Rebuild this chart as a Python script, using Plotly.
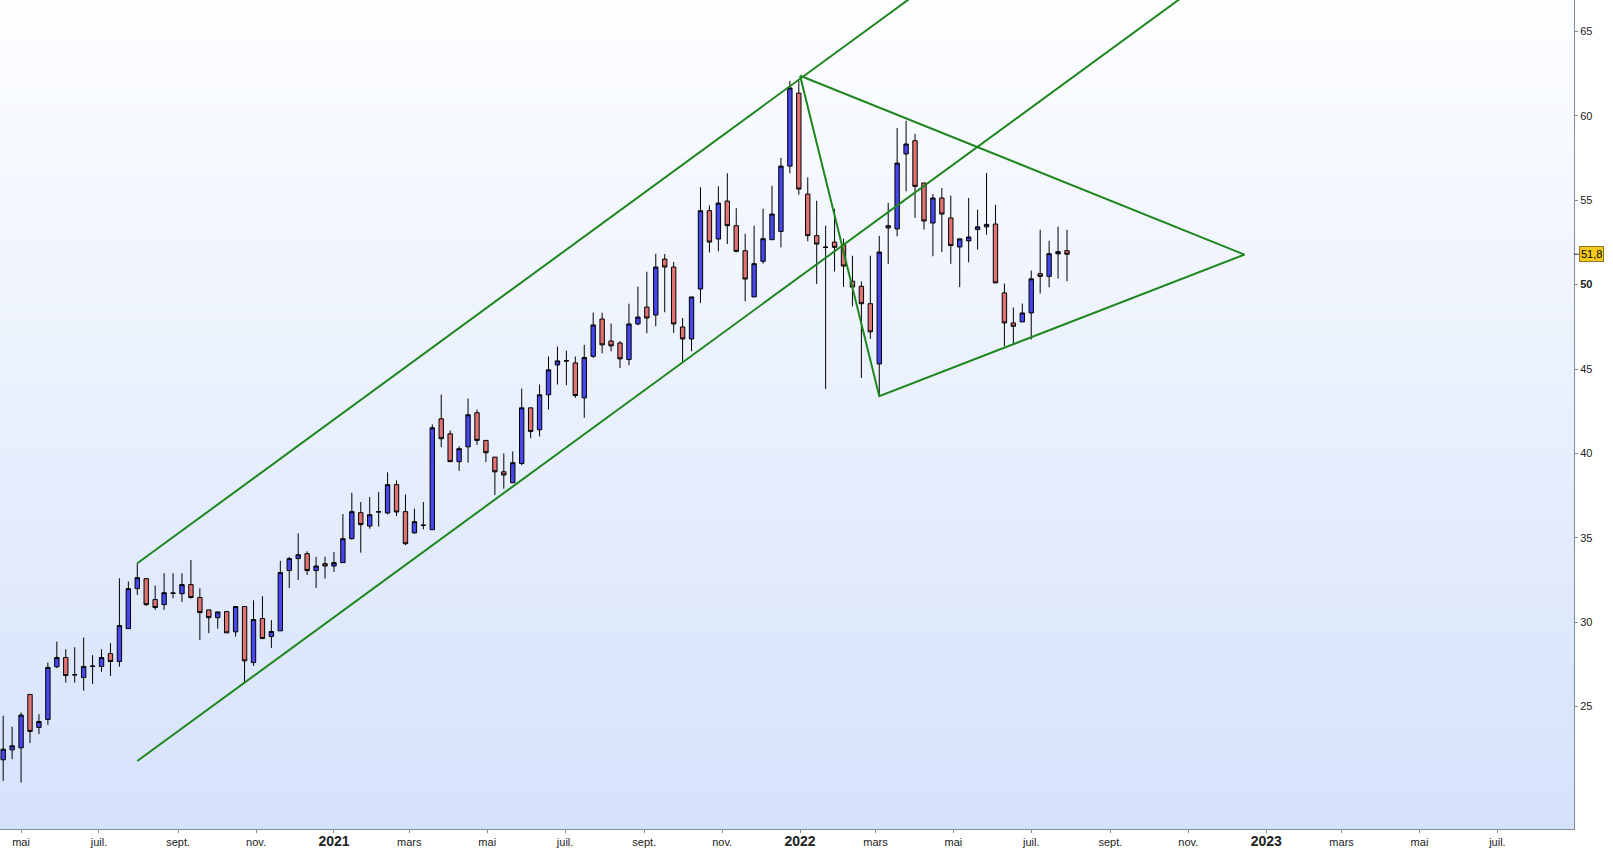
import plotly.graph_objects as go
import pandas as pd

# weekly candles, one per week (friday), from april 2020 to end of july 2022
first_week = "2020-04-17"
n_weeks = 120

opens = [21.85, 22.44, 22.56, 25.72, 23.77, 24.24, 27.36, 27.91, 26.9, 26.72,
         27.38, 27.38, 28.14, 27.67, 29.62, 31.99, 32.58, 31.34, 31.04, 31.71,
         31.69, 32.23, 31.46, 30.73, 30.27, 30.63, 29.43, 30.93, 27.61, 30.22,
         29.15, 29.49, 33.06, 33.77, 34.06, 33.06, 33.47, 33.33, 33.53, 34.95,
         36.49, 35.7, 36.52, 36.47, 38.15, 36.55, 35.29, 35.73, 35.48, 42.05,
         41.16, 39.51, 40.39, 42.41, 40.77, 39.78, 38.91, 38.26, 39.4, 42.7,
         41.4, 43.47, 45.24, 45.47, 45.36, 43.29, 45.75, 47.96, 46.66, 46.54,
         45.56, 47.67, 48.67, 48.2, 51.51, 51.04, 47.49, 46.78, 49.74, 54.38,
         52.7, 54.95, 53.49, 52.01, 49.27, 51.38, 52.66, 53.15, 57.02, 61.34,
         55.36, 52.9, 52.2, 52.52, 52.36, 50.2, 49.9, 48.87, 45.3, 53.49,
         53.3, 57.74, 58.52, 56.02, 53.65, 55.13, 53.95, 52.23, 52.59, 53.26,
         53.42, 53.59, 49.51, 47.73, 47.79, 48.32, 50.65, 50.49, 51.82, 52.01]
highs = [24.46, 23.81, 24.65, 25.75, 24.55, 27.61, 28.85, 28.4, 28.52, 29.09,
         28.05, 28.4, 28.76, 32.6, 32.41, 33.49, 32.6, 32.17, 32.9, 32.9,
         32.9, 33.69, 32.01, 30.73, 30.61, 30.63, 30.93, 30.93, 31.3, 31.54,
         30.12, 33.63, 33.88, 35.26, 34.2, 33.88, 33.88, 34.16, 36.41, 37.67,
         37.12, 37.42, 37.71, 38.88, 38.4, 37.57, 36.73, 37.12, 41.72, 43.49,
         41.36, 40.43, 43.25, 42.6, 40.77, 39.78, 40.0, 40.12, 43.84, 42.7,
         44.08, 45.74, 46.33, 46.09, 45.74, 46.43, 48.34, 48.34, 47.69, 46.66,
         48.87, 49.88, 50.76, 51.83, 51.81, 51.34, 48.02, 49.27, 55.76, 54.69,
         55.83, 56.6, 54.53, 53.01, 53.49, 54.49, 55.85, 57.51, 62.07, 62.07,
         56.35, 54.97, 53.49, 54.49, 52.72, 51.71, 50.19, 51.71, 52.89, 54.84,
         59.27, 59.71, 58.94, 56.02, 55.37, 55.72, 55.27, 52.71, 55.13, 54.44,
         56.61, 54.73, 50.06, 48.64, 48.88, 50.83, 53.25, 52.6, 53.43, 53.25]
lows = [20.6, 21.89, 20.5, 22.84, 23.37, 23.92, 27.28, 26.43, 26.43, 25.94,
        26.35, 27.06, 26.82, 27.36, 29.62, 31.62, 30.96, 30.73, 30.73, 31.42,
        31.2, 31.4, 28.95, 29.35, 29.62, 29.37, 29.15, 26.43, 27.41, 29.03,
        28.48, 29.49, 32.03, 32.5, 32.8, 32.03, 32.58, 32.98, 33.53, 34.9,
        34.12, 35.54, 35.66, 36.39, 36.29, 34.57, 35.25, 35.5, 35.48, 40.37,
        39.51, 38.97, 39.45, 40.5, 39.49, 37.53, 37.91, 38.26, 39.3, 40.9,
        41.0, 42.6, 44.08, 44.04, 43.29, 42.11, 45.66, 45.93, 46.05, 45.06,
        45.22, 47.59, 47.12, 47.53, 48.36, 47.14, 45.36, 46.05, 48.91, 51.91,
        51.97, 52.4, 51.91, 49.01, 49.27, 51.24, 52.66, 52.21, 56.6, 55.32,
        52.56, 50.04, 43.82, 50.78, 49.86, 48.71, 44.47, 46.78, 43.39, 51.23,
        52.86, 55.53, 53.95, 53.26, 51.68, 51.92, 51.23, 49.85, 51.32, 52.07,
        52.96, 50.1, 46.35, 46.45, 47.79, 46.75, 49.47, 49.84, 50.36, 50.2]
closes = [22.48, 22.68, 24.5, 23.53, 24.12, 27.32, 27.91, 26.84, 26.88, 27.38,
          27.4, 27.91, 27.67, 29.8, 31.99, 32.64, 31.04, 30.87, 31.75, 31.73,
          32.23, 31.46, 30.57, 30.27, 30.61, 29.37, 30.93, 27.71, 30.16, 29.03,
          29.45, 32.94, 33.77, 34.0, 33.06, 33.33, 33.33, 33.53, 34.95, 36.55,
          35.78, 36.37, 36.55, 38.15, 36.53, 34.65, 35.96, 35.75, 41.52, 40.87,
          39.51, 40.28, 42.29, 40.77, 40.04, 38.91, 38.72, 39.45, 42.7, 41.3,
          43.47, 44.95, 45.48, 45.49, 43.43, 45.68, 47.61, 46.43, 46.37, 45.6,
          47.67, 48.08, 48.02, 51.04, 51.04, 47.67, 46.78, 49.27, 54.38, 52.52,
          54.83, 53.49, 51.97, 50.33, 51.24, 52.72, 54.18, 57.02, 61.65, 55.66,
          52.9, 52.4, 52.22, 52.21, 51.1, 49.86, 48.87, 47.2, 51.93, 53.36,
          57.2, 58.33, 55.82, 53.77, 55.13, 54.18, 52.31, 52.71, 52.82, 53.42,
          53.57, 50.1, 47.73, 47.53, 48.32, 50.34, 50.49, 51.83, 51.95, 51.8]

last_price = 51.8

# drawn trend lines (channel + triangle)
upper_channel_x = ["2020-07-31", "2022-05-01"]
upper_channel_y = [33.49, 68.83]
lower_channel_x = ["2020-07-31", "2022-12-01"]
lower_channel_y = [21.78, 68.95]
triangle_x = ["2022-01-01", "2022-03-04", "2022-12-15", "2022-01-01"]
triangle_y = [62.37, 43.39, 51.78, 62.37]

# axis ticks
x_tick_dates = ["2020-05-01", "2020-07-01", "2020-09-01", "2020-11-01", "2021-01-01",
                "2021-03-01", "2021-05-01", "2021-07-01", "2021-09-01", "2021-11-01",
                "2022-01-01", "2022-03-01", "2022-05-01", "2022-07-01", "2022-09-01",
                "2022-11-01", "2023-01-01", "2023-03-01", "2023-05-01", "2023-07-01"]
x_tick_labels = ["mai", "juil.", "sept.", "nov.", "2021", "mars", "mai", "juil.", "sept.",
                 "nov.", "2022", "mars", "mai", "juil.", "sept.", "nov.", "2023", "mars",
                 "mai", "juil."]
y_tick_values = [25, 30, 35, 40, 45, 50, 55, 60, 65]

weeks = pd.date_range(first_week, periods=n_weeks, freq="7D")

GREEN = "#1e861e"

fig = go.Figure()

fig.add_trace(go.Candlestick(
    x=weeks, open=opens, high=highs, low=lows, close=closes,
    increasing=dict(fillcolor="#4646ee", line=dict(color="#000000", width=1)),
    decreasing=dict(fillcolor="#e07272", line=dict(color="#000000", width=1)),
    whiskerwidth=0,
    hoverinfo="skip",
    showlegend=False,
))

for lx, ly in [(upper_channel_x, upper_channel_y),
               (lower_channel_x, lower_channel_y),
               (triangle_x, triangle_y)]:
    fig.add_trace(go.Scatter(x=lx, y=ly, mode="lines",
                             line=dict(color=GREEN, width=2),
                             hoverinfo="skip", showlegend=False))

# background gradient: white at top to light blue at bottom
top_rgb = (253, 254, 255)
bottom_rgb = (213, 226, 251)
n_bands = 80
for i in range(n_bands):
    t = (i + 0.5) / n_bands
    c = [round(top_rgb[k] + (bottom_rgb[k] - top_rgb[k]) * t) for k in range(3)]
    fig.add_shape(type="rect", xref="paper", yref="paper",
                  x0=0, x1=1, y0=1 - (i + 1) / n_bands - 0.001, y1=1 - i / n_bands,
                  fillcolor="rgb({},{},{})".format(*c), line_width=0, layer="below")

# last price marker on the price axis
fig.add_shape(type="line", xref="paper", yref="y", x0=1, x1=1.003,
              y0=last_price, y1=last_price, line=dict(color="#222222", width=1))
fig.add_annotation(xref="paper", yref="y", x=1.003, y=last_price, xanchor="left",
                   text=str(last_price).replace(".", ","), showarrow=False,
                   font=dict(size=11, color="#000000", family="Liberation Sans, Arial"),
                   bgcolor="#f6c819", bordercolor="#8c7a2c", borderwidth=1, borderpad=1)

y_tick_text = ["<b>{}</b>".format(v) if v == 50 else str(v) for v in y_tick_values]
x_tick_text = ["<b><span style='font-size:14px'>{}</span></b>".format(t) if t.isdigit() else t
               for t in x_tick_labels]

fig.update_layout(
    width=1613, height=849,
    margin=dict(l=0, r=39, t=0, b=18),
    paper_bgcolor="#ffffff",
    plot_bgcolor="rgba(0,0,0,0)",
    font=dict(family="Liberation Sans, Arial", size=11, color="#222222"),
    xaxis=dict(
        type="date",
        range=["2020-04-14 12:00", "2023-08-30"],
        rangeslider=dict(visible=False),
        tickvals=x_tick_dates, ticktext=x_tick_text,
        ticks="outside", ticklen=3, tickcolor="#7f8c9a",
        showline=True, linecolor="#7f8c9a", linewidth=1,
        showgrid=False, zeroline=False,
    ),
    yaxis=dict(
        side="right",
        range=[17.75, 66.86],
        tickvals=y_tick_values, ticktext=y_tick_text,
        ticks="outside", ticklen=3, tickcolor="#7f8c9a",
        showline=True, linecolor="#7f8c9a", linewidth=1,
        showgrid=False, zeroline=False,
    ),
)

# the page is exactly the window size: drop the default body margin
fig.write_html("out.html",
               config={"displayModeBar": False},
               post_script="document.body.style.margin='0';document.body.style.overflow='hidden';")
